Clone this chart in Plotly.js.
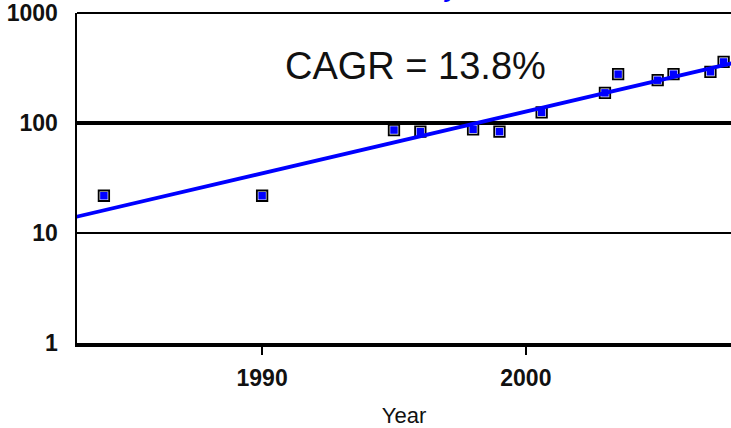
<!DOCTYPE html>
<html><head><meta charset="utf-8">
<script src="https://cdn.plot.ly/plotly-3.0.1.min.js"></script>
<style>html,body{margin:0;padding:0;background:#fff}#chart{width:731px;height:428px}</style>
</head><body><div id="chart"></div>
<script>
const years  = [1984, 1990, 1995, 1996, 1998, 1999, 2000.6, 2003, 2003.5, 2005, 2005.6, 2007, 2007.5];
const values = [21.8, 21.8, 86.3, 83.4, 87.6, 83.4, 125,   188,  278,    245,  278,    292,  359];
const trendYears  = [1982, 2009];
const trendValues = [12.4, 407];
const yTickVals = [1, 10, 100, 1000];
const yTickText = ['1', '10', '100', '1000'];
const xTickVals = [1990, 2000];
const xTickText = ['1990', '2000'];
const cagrText = 'CAGR = 13.8%';

const FONT = 'Arial, "Liberation Sans", sans-serif';

const data = [
  {x: trendYears, y: trendValues, type: 'scatter', mode: 'lines', yaxis: 'y2',
   line: {color: '#0000ff', width: 3.8}, hoverinfo: 'skip'},
  {x: years, y: values, type: 'scatter', mode: 'markers',
   marker: {symbol: 'square', size: 10.5, color: '#ffffff', line: {color: '#000000', width: 1.8}}},
  {x: years, y: values, type: 'scatter', mode: 'markers',
   marker: {symbol: 'square', size: 7.5, color: '#0000ff', line: {width: 0}}}
];

const layout = {
  width: 731, height: 428,
  margin: {l: 77, r: 0, t: 13, b: 85},
  paper_bgcolor: '#ffffff', plot_bgcolor: '#ffffff',
  showlegend: false,
  font: {family: FONT, color: '#000'},
  xaxis: {
    range: [1982.98, 2007.78], tickvals: xTickVals, ticktext: xTickText,
    ticks: 'outside', ticklen: 8, tickwidth: 1.5, tickcolor: '#000',
    showline: true, linewidth: 3.5, linecolor: '#000',
    showgrid: false, zeroline: false,
    tickfont: {family: FONT, size: 23, weight: 'bold', color: '#111'},
    ticklabelstandoff: 4,
    title: {text: 'Year', font: {family: FONT, size: 22, color: '#111'}, standoff: 18}
  },
  yaxis: {
    type: 'log', range: [0, 3], tickvals: yTickVals, ticktext: yTickText,
    ticks: '', showline: true, linewidth: 2.5, linecolor: '#000',
    showgrid: true, gridcolor: '#000', gridwidth: 1.3, zeroline: false,
    tickfont: {family: FONT, size: 23, weight: 'bold', color: '#111'},
    ticklabelstandoff: 12
  },
  yaxis2: {
    type: 'log', range: [0, 3], overlaying: 'y', side: 'left',
    tickvals: [100], showticklabels: false, ticks: '',
    showgrid: true, gridcolor: '#000', gridwidth: 3.3, showline: false, zeroline: false
  },
  shapes: [
    {type: 'line', xref: 'paper', yref: 'paper', x0: 0, x1: 1, y0: 1, y1: 1,
     line: {color: '#000', width: 2}}
  ],
  annotations: [
    {text: cagrText, xref: 'paper', yref: 'paper', x: 0.517, y: 0.840,
     xanchor: 'center', yanchor: 'middle', showarrow: false,
     font: {family: FONT, size: 38, color: '#111'}},
    {text: 'y', xref: 'paper', yref: 'paper', x: 0.574, y: 1.027,
     xanchor: 'center', yanchor: 'bottom', showarrow: false,
     font: {family: FONT, size: 24, color: '#0000ff', weight: 'bold', style: 'italic'}}
  ]
};

Plotly.newPlot('chart', data, layout, {displayModeBar: false, staticPlot: true});
</script>
</body></html>
